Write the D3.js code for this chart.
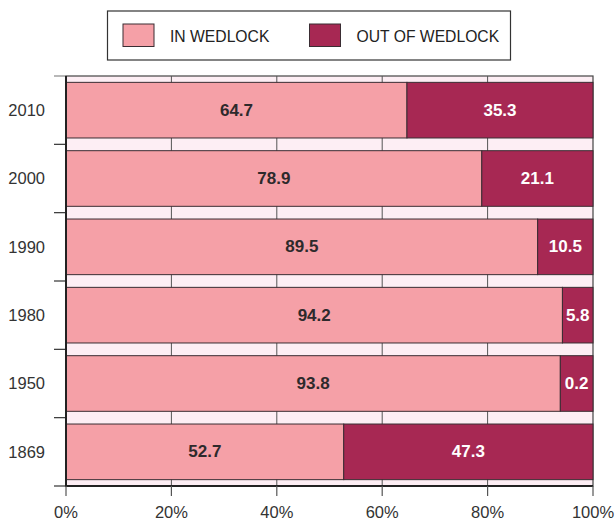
<!DOCTYPE html>
<html>
<head>
<meta charset="utf-8">
<script src="https://cdn.jsdelivr.net/npm/d3@7.9.0/dist/d3.min.js"></script>
<style>
  body { margin: 0; background: #fff; }
  svg { display: block; font-family: "Liberation Sans", Arial, sans-serif; }
</style>
</head>
<body>
<svg id="viz" width="615" height="518"></svg>
<script>
const years = ["2010", "2000", "1990", "1980", "1950", "1869"];
const inWedlock = [64.7, 78.9, 89.5, 94.2, 93.8, 52.7];
const outWedlock = [35.3, 21.1, 10.5, 5.8, 0.2, 47.3];
const xTicks = [0, 20, 40, 60, 80, 100];
const seriesNames = ["IN WEDLOCK", "OUT OF WEDLOCK"];

const colIn = "#f5a0a7";
const colOut = "#a72853";
const bg = "#fdeef4";
const edge = "#3a2d33";

const svg = d3.select("#viz");
const m = { left: 66, right: 593, top: 76, bottom: 486 };

const x = d3.scaleLinear().domain([0, 100]).range([m.left, m.right]);
const y = d3.scaleBand().domain(years).range([m.top, m.bottom])
  .paddingInner(0.186).paddingOuter(0.093);

// plot background
svg.append("rect")
  .attr("x", m.left).attr("y", m.top)
  .attr("width", m.right - m.left).attr("height", m.bottom - m.top)
  .attr("fill", bg).attr("stroke", "#444").attr("stroke-width", 1.2);

// grid
svg.append("g").selectAll("line").data(xTicks.slice(1, -1)).join("line")
  .attr("x1", d => x(d)).attr("x2", d => x(d))
  .attr("y1", m.top).attr("y2", m.bottom)
  .attr("stroke", "#555").attr("stroke-width", 1);

// bars
const rows = years.map((yr, i) => ({ yr, a: inWedlock[i], b: outWedlock[i] }));
const g = svg.append("g");
g.selectAll(".in").data(rows).join("rect")
  .attr("class", "in")
  .attr("x", x(0)).attr("y", d => y(d.yr))
  .attr("width", d => x(d.a) - x(0)).attr("height", y.bandwidth())
  .attr("fill", colIn).attr("stroke", edge).attr("stroke-width", 1);
g.selectAll(".out").data(rows).join("rect")
  .attr("class", "out")
  .attr("x", d => x(d.a)).attr("y", d => y(d.yr))
  .attr("width", d => x(100) - x(d.a)).attr("height", y.bandwidth())
  .attr("fill", colOut).attr("stroke", edge).attr("stroke-width", 1);

// value labels
g.selectAll(".lin").data(rows).join("text")
  .attr("x", d => (x(0) + x(d.a)) / 2)
  .attr("y", d => y(d.yr) + y.bandwidth() / 2)
  .attr("dy", "0.32em").attr("text-anchor", "middle")
  .attr("font-size", 17).attr("font-weight", "bold").attr("fill", "#2e2a2c")
  .text(d => d.a.toFixed(1));
g.selectAll(".lout").data(rows).join("text")
  .attr("x", d => (x(d.a) + x(100)) / 2)
  .attr("y", d => y(d.yr) + y.bandwidth() / 2)
  .attr("dy", "0.32em").attr("text-anchor", "middle")
  .attr("font-size", 17).attr("font-weight", "bold").attr("fill", "#fff")
  .text(d => d.b.toFixed(1));

// y axis
const yEdges = d3.range(years.length + 1).map(i => m.top + i * y.step());
svg.append("g").selectAll("line").data(yEdges).join("line")
  .attr("x1", m.left - 12).attr("x2", m.left)
  .attr("y1", d => d).attr("y2", d => d)
  .attr("stroke", (d, i) => i === 0 ? "#888" : "#333").attr("stroke-width", 1.2);
svg.append("g").selectAll("text").data(years).join("text")
  .attr("x", 45).attr("y", d => y(d) + y.bandwidth() / 2)
  .attr("dy", "0.35em").attr("text-anchor", "end")
  .attr("font-size", 16.5).attr("fill", "#333")
  .text(d => d);
svg.append("line")
  .attr("x1", m.left).attr("x2", m.left).attr("y1", m.top).attr("y2", m.bottom + 1)
  .attr("stroke", "#222").attr("stroke-width", 2);

// x axis
svg.append("line")
  .attr("x1", m.left).attr("x2", m.right).attr("y1", m.bottom).attr("y2", m.bottom)
  .attr("stroke", "#222").attr("stroke-width", 2);
svg.append("g").selectAll("line").data(xTicks).join("line")
  .attr("x1", d => x(d)).attr("x2", d => x(d))
  .attr("y1", m.bottom).attr("y2", m.bottom + 10)
  .attr("stroke", "#555").attr("stroke-width", 1.2);
svg.append("g").selectAll("text").data(xTicks).join("text")
  .attr("x", d => x(d)).attr("y", 517.5)
  .attr("text-anchor", "middle")
  .attr("font-size", 16.5).attr("fill", "#333")
  .text(d => d + "%");

// legend
const lg = svg.append("g");
lg.append("rect").attr("x", 107.5).attr("y", 11).attr("width", 403).attr("height", 49)
  .attr("fill", "#fff").attr("stroke", "#333").attr("stroke-width", 1.2);
const legendX = [123, 309.5];
const legendCols = [colIn, colOut];
seriesNames.forEach((name, i) => {
  lg.append("rect").attr("x", legendX[i]).attr("y", 24)
    .attr("width", 31).attr("height", 22.5)
    .attr("fill", legendCols[i]).attr("stroke", edge).attr("stroke-width", 1);
  lg.append("text").attr("x", legendX[i] + 47).attr("y", 42.3)
    .attr("font-size", 15.7).attr("fill", "#222")
    .text(name);
});
</script>
</body>
</html>
